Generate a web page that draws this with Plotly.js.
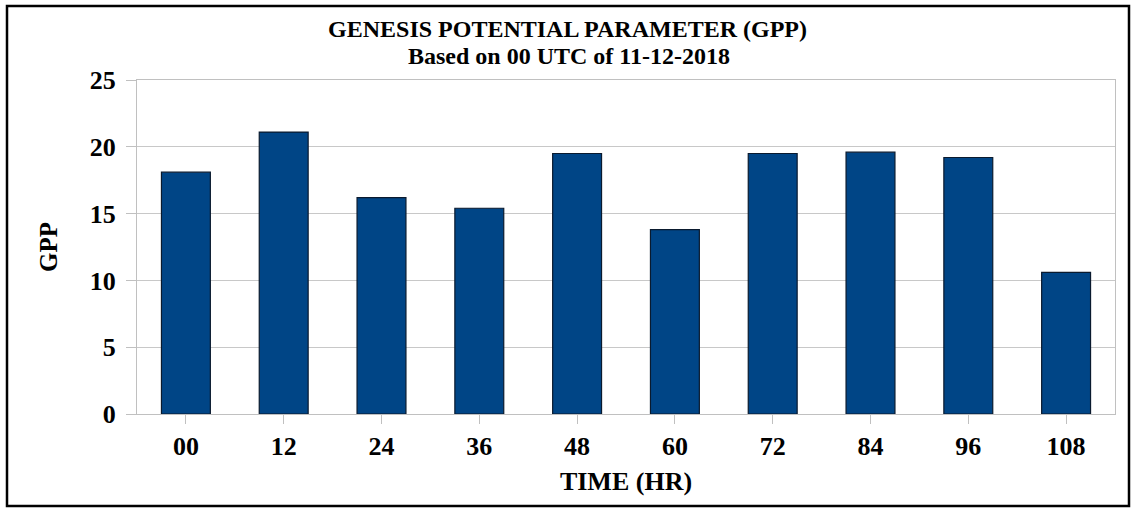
<!DOCTYPE html>
<html>
<head>
<meta charset="utf-8">
<script src="https://cdn.plot.ly/plotly-3.0.1.min.js"></script>
<style>
html,body{margin:0;padding:0;background:#fff;}
#chart{width:1135px;height:510px;}
</style>
</head>
<body>
<div id="chart"></div>
<script>
const categories = ["00","12","24","36","48","60","72","84","96","108"];
const gppValues = [18.1, 21.1, 16.2, 15.4, 19.5, 13.8, 19.5, 19.6, 19.2, 10.6];
const yTicks = [0, 5, 10, 15, 20, 25];
const titleLine1 = "GENESIS POTENTIAL PARAMETER (GPP)";
const titleLine2 = "Based on 00 UTC of 11-12-2018";

const serif = "Liberation Serif, Times New Roman, serif";

const trace = {
  type: "bar",
  x: categories,
  y: gppValues,
  marker: {color: "#004586", line: {color: "#0a1a2e", width: 1.2}},
  hoverinfo: "x+y"
};

const layout = {
  width: 1135,
  height: 510,
  margin: {l: 137, r: 20, t: 80, b: 96},
  paper_bgcolor: "#ffffff",
  plot_bgcolor: "#ffffff",
  bargap: 0.5,
  showlegend: false,
  font: {family: serif, color: "#000"},
  title: {
    text: titleLine1,
    font: {family: serif, size: 24, weight: 700, color: "#000"},
    x: 0.5, xref: "container", xanchor: "center",
    y: 1 - 29/510, yref: "container", yanchor: "middle"
  },
  annotations: [{
    text: titleLine2, showarrow: false,
    xref: "paper", yref: "paper",
    x: (569-137)/978, y: (414-56)/334, xanchor: "center", yanchor: "middle",
    font: {family: serif, size: 24, weight: 700, color: "#000"}
  }],
  xaxis: {
    type: "category",
    tickfont: {family: serif, size: 26, weight: 700, color: "#000"},
    ticks: "outside", ticklen: 9, tickcolor: "#c0c0c0", tickwidth: 1,
    showline: true, linecolor: "#c0c0c0", linewidth: 1, mirror: true,
    showgrid: false,
    title: {text: "TIME (HR)", font: {family: serif, size: 26, weight: 700, color: "#000"}, standoff: 11}
  },
  yaxis: {
    range: [0, 25],
    tickvals: yTicks,
    tickfont: {family: serif, size: 26, weight: 700, color: "#000"},
    ticks: "outside", ticklen: 10, tickcolor: "#c0c0c0", tickwidth: 1,
    ticklabelstandoff: 5,
    showline: true, linecolor: "#c0c0c0", linewidth: 1, mirror: true,
    showgrid: true, gridcolor: "#c8c8c8", gridwidth: 1,
    zeroline: false,
    title: {text: "GPP", font: {family: serif, size: 25, weight: 700, color: "#000"}, standoff: 25}
  },
  shapes: [{
    type: "rect", xref: "paper", yref: "paper",
    x0: (7-137)/978, x1: (1129-137)/978,
    y0: (414-506)/334, y1: (414-6)/334,
    line: {color: "#000", width: 2.5}, fillcolor: "rgba(0,0,0,0)", layer: "above"
  }]
};

Plotly.newPlot("chart", [trace], layout, {displayModeBar: false, staticPlot: true});
</script>
</body>
</html>
